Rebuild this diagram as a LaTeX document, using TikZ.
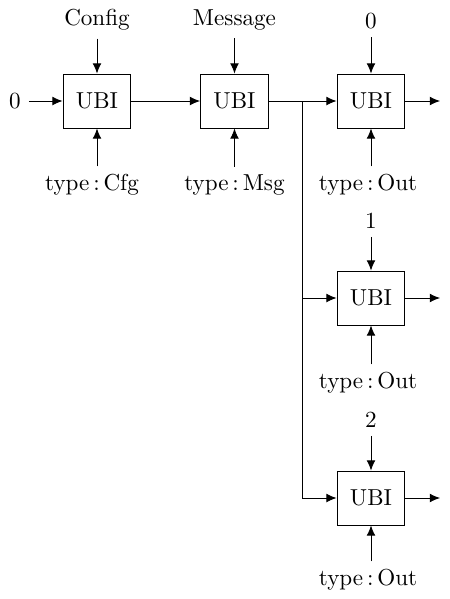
\documentclass[tikz,border=0pt]{standalone}
\usetikzlibrary{arrows.meta,positioning}
\tikzset{ubi/.style={draw,minimum width=29.4pt,minimum height=23.4pt}}
\begin{document}
\begin{tikzpicture}[x=0.01521cm,y=-0.01521cm,>={Latex[length=4.4pt,width=3.8pt]}]
\useasboundingbox (0,0) rectangle (450,599);
% boxes
\node[ubi] (cfgbox) at (97,101) {UBI};
\node[ubi] (msgbox) at (234.5,101) {UBI};
\node[ubi] (outa) at (371,101) {UBI};
\node[ubi] (outb) at (371,298) {UBI};
\node[ubi] (outc) at (371,498) {UBI};
% inputs
\node (zero) at (15,101) {0};
\node (config) at (97,20) {Config};
\node (message) at (234.5,20) {Message};
\node (cnta) at (371,21) {0};
\node (cntb) at (371,221) {1};
\node (cntc) at (371,420) {2};
\node (tcfg) at (92,185) {type\,:\,Cfg};
\node (tmsg) at (234.5,185) {type\,:\,Msg};
\node (touta) at (368,185) {type\,:\,Out};
\node (toutb) at (368,383) {type\,:\,Out};
\node (toutc) at (368,580) {type\,:\,Out};
\coordinate (split) at (302,101);
\coordinate (enda) at (440,101);
\coordinate (endb) at (440,298);
\coordinate (endc) at (440,498);
\draw[->] (zero)--(cfgbox);
\draw[->] (cfgbox)--(msgbox);
\draw (msgbox)--(split);
\draw[->] (split)--(outa);
\draw[->] (split)|-(outb);
\draw[->] (split)|-(outc);
\draw[->] (config)--(cfgbox);
\draw[->] (message)--(msgbox);
\draw[->] (cnta)--(outa);
\draw[->] (cntb)--(outb);
\draw[->] (cntc)--(outc);
\draw[->] (tcfg.north-|cfgbox)--(cfgbox);
\draw[->] (tmsg)--(msgbox);
\draw[->] (touta.north-|outa)--(outa);
\draw[->] (toutb.north-|outb)--(outb);
\draw[->] (toutc.north-|outc)--(outc);
\draw[->] (outa)--(enda);
\draw[->] (outb)--(endb);
\draw[->] (outc)--(endc);
\end{tikzpicture}
\end{document}
